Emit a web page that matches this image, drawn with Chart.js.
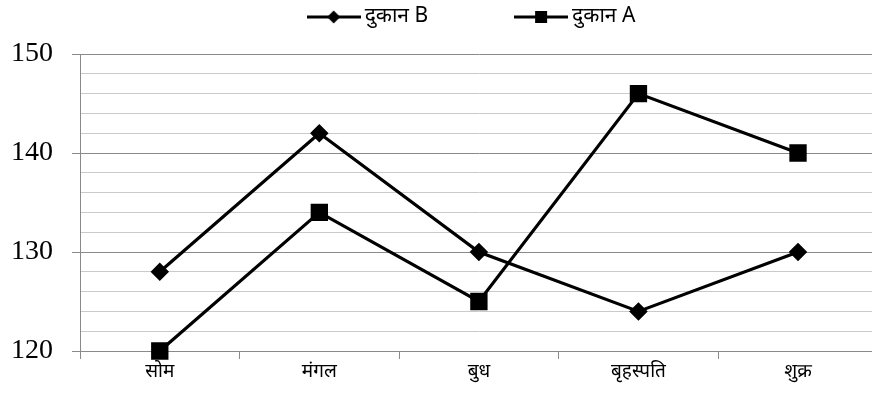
<!DOCTYPE html>
<html>
<head>
<meta charset="utf-8">
<script src="https://cdn.jsdelivr.net/npm/chart.js@4.4.1/dist/chart.umd.min.js"></script>
<style>
  html, body { margin: 0; padding: 0; background: #fff; overflow: hidden; }
  canvas { display: block; }
</style>
</head>
<body>
<canvas id="c" width="891" height="396"></canvas>
<script>
// Weekdays and the two shops' figures
const days = ['सोम', 'मंगल', 'बुध', 'बृहस्पति', 'शुक्र'];
const shopB = [128, 142, 130, 124, 130];
const shopA = [120, 134, 125, 146, 140];
const seriesNames = ['दुकान B', 'दुकान A'];
const yMin = 120, yMax = 150, yStep = 2, yLabelEvery = 10;

const serif = '"Liberation Serif", "DejaVu Serif", serif';
const deva = '"Noto Sans Devanagari", "Noto Serif Devanagari", "Lohit Devanagari", "Liberation Serif", serif';
const majorGrid = '#8a8a8a';
const minorGrid = '#cacaca';

// Legend swatches: a short line with the series marker in its middle
function swatch(style) {
  const c = document.createElement('canvas');
  c.width = 54; c.height = 16;
  const g = c.getContext('2d');
  g.strokeStyle = '#000'; g.lineWidth = 3;
  g.beginPath(); g.moveTo(0, 8); g.lineTo(54, 8); g.stroke();
  g.fillStyle = '#000';
  g.beginPath();
  if (style === 'rectRot') {
    g.moveTo(27, 1.5); g.lineTo(33.5, 8); g.lineTo(27, 14.5); g.lineTo(20.5, 8);
  } else {
    g.rect(21, 2, 12, 12);
  }
  g.closePath(); g.fill();
  return c;
}

const keyPlugin = {
  id: 'seriesKey',
  afterDraw(chart) {
    const ctx = chart.ctx;
    const items = chart.data.datasets.map(d => ({ text: d.label, img: swatch(d.pointStyle) }));
    ctx.save();
    ctx.font = '21px ' + deva;
    ctx.textBaseline = 'middle';
    ctx.fillStyle = '#000';
    const gap = 86;
    const widths = items.map(it => it.img.width + 4 + ctx.measureText(it.text).width);
    const total = widths.reduce((a, b) => a + b, 0) + gap * (items.length - 1);
    let x = 471 - total / 2;
    const y = 17;
    items.forEach((it, i) => {
      ctx.drawImage(it.img, x, y - 8);
      ctx.fillText(it.text, x + it.img.width + 4, y + 1);
      x += widths[i] + gap;
    });
    ctx.restore();
  }
};

new Chart(document.getElementById('c'), {
  type: 'line',
  data: {
    labels: days,
    datasets: [
      {
        label: seriesNames[0], data: shopB,
        borderColor: '#000', backgroundColor: '#000', borderWidth: 3.2,
        pointStyle: 'rectRot', pointRadius: 7, pointHoverRadius: 7,
        tension: 0, fill: false, clip: false
      },
      {
        label: seriesNames[1], data: shopA,
        borderColor: '#000', backgroundColor: '#000', borderWidth: 3.2,
        pointStyle: 'rect', pointRadius: 10, pointHoverRadius: 10,
        tension: 0, fill: false, clip: false
      }
    ]
  },
  options: {
    responsive: false,
    animation: false,
    devicePixelRatio: 1,
    layout: { padding: { top: 54, right: 2, bottom: 0, left: 0 } },
    plugins: { legend: { display: false }, tooltip: { enabled: false } },
    scales: {
      x: {
        offset: true,
        grid: {
          offset: true, drawOnChartArea: false, drawTicks: true,
          tickLength: 8, color: majorGrid, lineWidth: 1
        },
        border: { display: true, color: majorGrid, width: 1 },
        ticks: { color: '#000', font: { family: deva, size: 19 }, padding: 3, maxRotation: 0 },
        afterFit(scale) { scale.height = 45; }
      },
      y: {
        min: yMin, max: yMax,
        grid: {
          drawTicks: true, tickLength: 8,
          color: ctx => (ctx.tick && ctx.tick.value % yLabelEvery === 0) ? majorGrid : minorGrid,
          tickColor: ctx => (ctx.tick && ctx.tick.value % yLabelEvery === 0) ? majorGrid : 'rgba(0,0,0,0)',
          lineWidth: 1
        },
        border: { display: true, color: majorGrid, width: 1 },
        ticks: {
          stepSize: yStep, autoSkip: false, color: '#000', padding: 19,
          font: { family: serif, size: 28 },
          callback: v => (v % yLabelEvery === 0 ? String(v) : '')
        },
        afterFit(scale) { scale.width = 80; }
      }
    }
  },
  plugins: [keyPlugin]
});
</script>
</body>
</html>
